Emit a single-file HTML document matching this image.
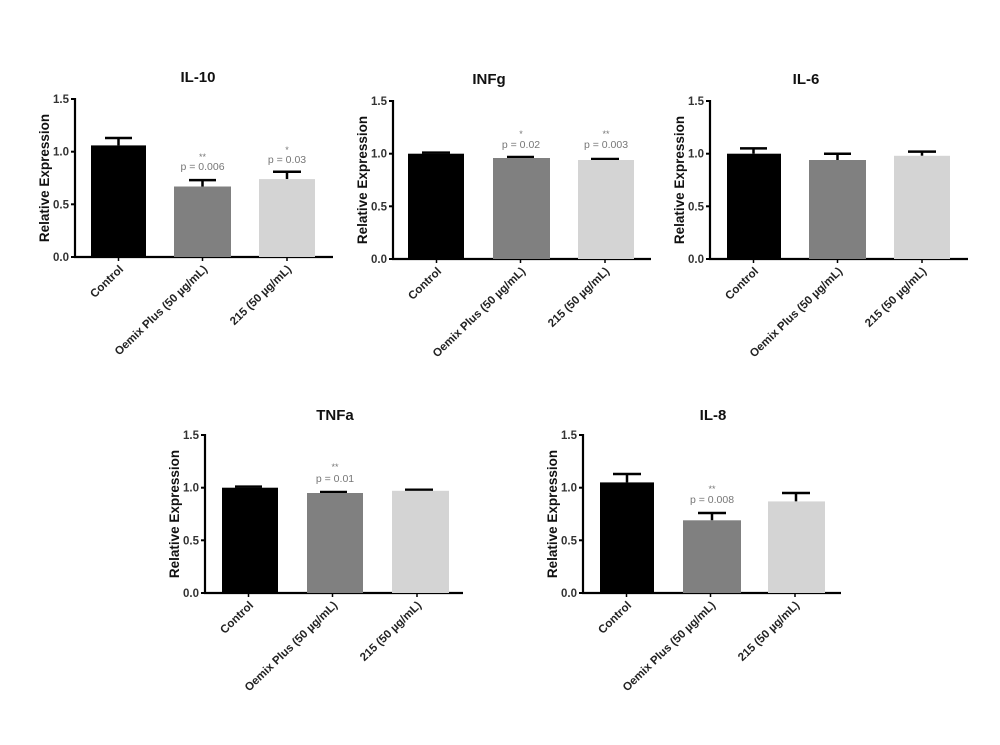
<!DOCTYPE html>
<html><head><meta charset="utf-8"><style>
body{margin:0;background:#fff;}
svg{display:block;font-family:"Liberation Sans",Arial,sans-serif;}
.tl{font-size:11.5px;font-weight:bold;fill:#333;text-anchor:end;}
.yl{font-size:13.5px;font-weight:bold;fill:#111;text-anchor:middle;}
.ti{font-size:15px;font-weight:bold;fill:#111;text-anchor:middle;}
.xl{font-size:11.5px;font-weight:bold;fill:#222;text-anchor:end;}
.pv{font-size:10.5px;fill:#777;text-anchor:middle;}
.st{font-size:9px;fill:#777;text-anchor:middle;}
</style></head><body>
<svg width="1000" height="745" viewBox="0 0 1000 745">
<defs>
<g id="frame">
<line x1="0" y1="0" x2="0" y2="-159" stroke="#000" stroke-width="2.2"/>
<line x1="-1" y1="0" x2="258" y2="0" stroke="#000" stroke-width="2.2"/>
<line x1="-4" y1="0" x2="0" y2="0" stroke="#000" stroke-width="2"/>
<line x1="-4" y1="-52.7" x2="0" y2="-52.7" stroke="#000" stroke-width="2"/>
<line x1="-4" y1="-105.3" x2="0" y2="-105.3" stroke="#000" stroke-width="2"/>
<line x1="-4" y1="-158" x2="0" y2="-158" stroke="#000" stroke-width="2"/>
<line x1="43.5" y1="0" x2="43.5" y2="4" stroke="#000" stroke-width="1.5"/>
<line x1="127.5" y1="0" x2="127.5" y2="4" stroke="#000" stroke-width="1.5"/>
<line x1="212" y1="0" x2="212" y2="4" stroke="#000" stroke-width="1.5"/>
<text class="tl" x="-6" y="4">0.0</text>
<text class="tl" x="-6" y="-48.7">0.5</text>
<text class="tl" x="-6" y="-101.3">1.0</text>
<text class="tl" x="-6" y="-154">1.5</text>
<text class="yl" transform="translate(-26,-79) rotate(-90)">Relative Expression</text>
<text class="xl" transform="translate(49,13) rotate(-44)">Control</text>
<text class="xl" transform="translate(133,13) rotate(-44)">Oemix Plus (50 µg/mL)</text>
<text class="xl" transform="translate(217,13) rotate(-44)">215 (50 µg/mL)</text>
</g>
</defs>

<!-- IL-10 -->
<g transform="translate(75,257)">
<use href="#frame"/>
<text class="ti" x="123" y="-175">IL-10</text>
<g stroke="#000" stroke-width="2.5">
<line x1="43.5" y1="-111.6" x2="43.5" y2="-119"/><line x1="30" y1="-119" x2="57" y2="-119"/>
<line x1="127.5" y1="-70.5" x2="127.5" y2="-76.9"/><line x1="114" y1="-76.9" x2="141" y2="-76.9"/>
<line x1="212" y1="-77.9" x2="212" y2="-85.3"/><line x1="198" y1="-85.3" x2="226" y2="-85.3"/>
</g>
<rect x="16" y="-111.6" width="55" height="111.6" fill="#000"/>
<rect x="99" y="-70.5" width="57" height="70.5" fill="#808080"/>
<rect x="184" y="-77.9" width="56" height="77.9" fill="#d4d4d4"/>
<text class="st" x="127.5" y="-97">**</text><text class="pv" x="127.5" y="-87">p = 0.006</text>
<text class="st" x="212" y="-104">*</text><text class="pv" x="212" y="-94">p = 0.03</text>
</g>

<!-- INFg -->
<g transform="translate(393,259)">
<use href="#frame"/>
<text class="ti" x="96" y="-175">INFg</text>
<g stroke="#000" stroke-width="2.5">
<line x1="29" y1="-106.4" x2="57" y2="-106.4"/>
<line x1="114" y1="-102" x2="141" y2="-102"/>
<line x1="198" y1="-100" x2="226" y2="-100"/>
</g>
<rect x="15" y="-105.3" width="56" height="105.3" fill="#000"/>
<rect x="100" y="-101" width="57" height="101" fill="#808080"/>
<rect x="185" y="-99" width="56" height="99" fill="#d4d4d4"/>
<text class="st" x="128" y="-122">*</text><text class="pv" x="128" y="-111">p = 0.02</text>
<text class="st" x="213" y="-122">**</text><text class="pv" x="213" y="-111">p = 0.003</text>
</g>

<!-- IL-6 -->
<g transform="translate(710,259)">
<use href="#frame"/>
<text class="ti" x="96" y="-175">IL-6</text>
<g stroke="#000" stroke-width="2.5">
<line x1="43.5" y1="-105.3" x2="43.5" y2="-110.6"/><line x1="30" y1="-110.6" x2="57" y2="-110.6"/>
<line x1="127.5" y1="-99" x2="127.5" y2="-105.3"/><line x1="114" y1="-105.3" x2="141" y2="-105.3"/>
<line x1="212" y1="-103.2" x2="212" y2="-107.4"/><line x1="198" y1="-107.4" x2="226" y2="-107.4"/>
</g>
<rect x="17" y="-105.3" width="54" height="105.3" fill="#000"/>
<rect x="99" y="-99" width="57" height="99" fill="#808080"/>
<rect x="184" y="-103.2" width="56" height="103.2" fill="#d4d4d4"/>
</g>

<!-- TNFa -->
<g transform="translate(205,593)">
<use href="#frame"/>
<text class="ti" x="130" y="-173">TNFa</text>
<g stroke="#000" stroke-width="2.5">
<line x1="30" y1="-106.4" x2="57" y2="-106.4"/>
<line x1="115" y1="-101" x2="142" y2="-101"/>
<line x1="200" y1="-103.2" x2="228" y2="-103.2"/>
</g>
<rect x="17" y="-105.3" width="56" height="105.3" fill="#000"/>
<rect x="102" y="-100" width="56" height="100" fill="#808080"/>
<rect x="187" y="-102.2" width="57" height="102.2" fill="#d4d4d4"/>
<text class="st" x="130" y="-123">**</text><text class="pv" x="130" y="-111">p = 0.01</text>
</g>

<!-- IL-8 -->
<g transform="translate(583,593)">
<use href="#frame"/>
<text class="ti" x="130" y="-173">IL-8</text>
<g stroke="#000" stroke-width="2.5">
<line x1="44" y1="-110.6" x2="44" y2="-119"/><line x1="30" y1="-119" x2="58" y2="-119"/>
<line x1="129" y1="-72.7" x2="129" y2="-80"/><line x1="115" y1="-80" x2="143" y2="-80"/>
<line x1="213" y1="-91.6" x2="213" y2="-100"/><line x1="199" y1="-100" x2="227" y2="-100"/>
</g>
<rect x="17" y="-110.6" width="54" height="110.6" fill="#000"/>
<rect x="100" y="-72.7" width="58" height="72.7" fill="#808080"/>
<rect x="185" y="-91.6" width="57" height="91.6" fill="#d4d4d4"/>
<text class="st" x="129" y="-101">**</text><text class="pv" x="129" y="-90">p = 0.008</text>
</g>
</svg>
</body></html>
